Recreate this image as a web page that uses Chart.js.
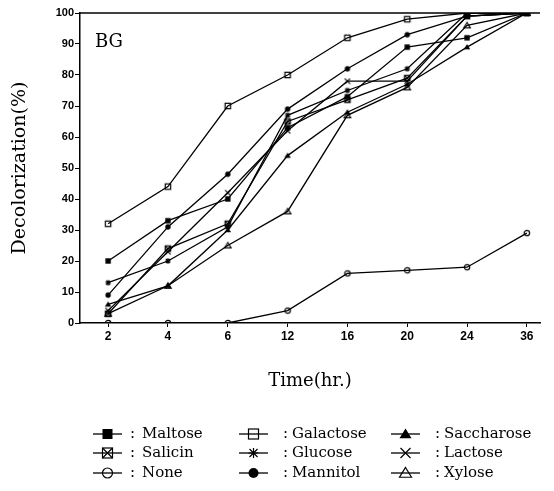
<!DOCTYPE html>
<html>
<head>
<meta charset="utf-8">
<script src="https://cdn.jsdelivr.net/npm/chart.js@4.4.0/dist/chart.umd.min.js"></script>
<style>
  body { margin: 0; background: #fff; }
</style>
</head>
<body>
<canvas id="c" width="554" height="491"></canvas>
<script>
// time points (hr.) and decolorization (%) per carbon source
var timeLabels = ['2', '4', '6', '12', '16', '20', '24', '36'];
var yTicks = [0, 10, 20, 30, 40, 50, 60, 70, 80, 90, 100];

var maltose    = [20, 33, 40, 63, 73, 89, 92, 100];
var galactose  = [32, 44, 70, 80, 92, 98, 100, 100];
var saccharose = [6, 12, 30, 54, 68, 77, 89, 100];
var salicin    = [3, 24, 32, 65, 72, 79, 99, 100];
var glucose    = [13, 20, 31, 67, 75, 82, 100, 100];
var lactose    = [4, 23, 42, 62, 78, 78, 99, 100];
var none       = [0, 0, 0, 4, 16, 17, 18, 29];
var mannitol   = [9, 31, 48, 69, 82, 93, 99, 100];
var xylose     = [3, 12, 25, 36, 67, 76, 96, 100];

var seriesNames = ['Maltose', 'Galactose', 'Saccharose', 'Salicin', 'Glucose', 'Lactose', 'None', 'Mannitol', 'Xylose'];
var seriesValues = [maltose, galactose, saccharose, salicin, glucose, lactose, none, mannitol, xylose];
var seriesMarks = ['fsquare', 'osquare', 'ftri', 'xsquare', 'aster', 'cross', 'ocircle', 'fcircle', 'otri'];

function drawMarker(ctx, kind, x, y, r) {
  ctx.save();
  ctx.strokeStyle = '#000';
  ctx.fillStyle = '#000';
  ctx.lineWidth = 1.2;
  ctx.beginPath();
  if (kind == 'fsquare') {
    ctx.fillRect(x - r, y - r, 2 * r, 2 * r);
  } else if (kind == 'osquare') {
    ctx.strokeRect(x - r, y - r, 2 * r, 2 * r);
  } else if (kind == 'xsquare') {
    ctx.strokeRect(x - r, y - r, 2 * r, 2 * r);
    ctx.moveTo(x - r, y - r); ctx.lineTo(x + r, y + r);
    ctx.moveTo(x + r, y - r); ctx.lineTo(x - r, y + r);
    ctx.stroke();
  } else if (kind == 'ftri' || kind == 'otri') {
    ctx.moveTo(x, y - r * 1.1);
    ctx.lineTo(x + r * 1.2, y + r * 0.85);
    ctx.lineTo(x - r * 1.2, y + r * 0.85);
    ctx.closePath();
    if (kind == 'ftri') ctx.fill(); else ctx.stroke();
  } else if (kind == 'ocircle' || kind == 'fcircle') {
    ctx.arc(x, y, r, 0, Math.PI * 2);
    if (kind == 'fcircle') ctx.fill(); else ctx.stroke();
  } else if (kind == 'aster') {
    ctx.moveTo(x, y - r); ctx.lineTo(x, y + r);
    ctx.moveTo(x - r, y); ctx.lineTo(x + r, y);
    ctx.moveTo(x - r * 0.8, y - r * 0.8); ctx.lineTo(x + r * 0.8, y + r * 0.8);
    ctx.moveTo(x + r * 0.8, y - r * 0.8); ctx.lineTo(x - r * 0.8, y + r * 0.8);
    ctx.stroke();
  } else if (kind == 'cross') {
    ctx.moveTo(x - r, y - r); ctx.lineTo(x + r, y + r);
    ctx.moveTo(x + r, y - r); ctx.lineTo(x - r, y + r);
    ctx.stroke();
  }
  ctx.restore();
}

function markImg(kind, r) {
  var c = document.createElement('canvas');
  var s = Math.ceil(2 * r + 4);
  c.width = s; c.height = s;
  drawMarker(c.getContext('2d'), kind, s / 2, s / 2, r);
  return c;
}

var datasets = seriesNames.map(function (name, i) {
  return {
    label: name,
    data: seriesValues[i].map(function (v, j) { return { x: j, y: v }; }),
    borderColor: '#000',
    borderWidth: 1.3,
    pointStyle: markImg(seriesMarks[i], 2.7),
    pointRadius: 3,
    fill: false,
    tension: 0
  };
});

var serif = 'DejaVu Serif';

var extras = {
  id: 'extras',
  afterDraw: function (chart) {
    var ctx = chart.ctx, a = chart.chartArea;
    ctx.save();
    // top frame line
    ctx.strokeStyle = '#000';
    ctx.lineWidth = 1.5;
    ctx.beginPath();
    ctx.moveTo(a.left, a.top);
    ctx.lineTo(a.right, a.top);
    ctx.stroke();

    ctx.fillStyle = '#000';
    ctx.font = '18px "' + serif + '"';
    ctx.textBaseline = 'alphabetic';
    ctx.fillText('BG', a.left + 15, a.top + 34);

    // legend, three columns
    var lineX = [93, 239, 391];
    var colonX = [130, 283, 435];
    var textX = [142, 292, 444];
    var rowY = [434, 453, 473];
    ctx.font = '15px "' + serif + '"';
    ctx.textBaseline = 'middle';
    seriesNames.forEach(function (name, i) {
      var col = i % 3, row = Math.floor(i / 3);
      var y = rowY[row];
      ctx.lineWidth = 1.3;
      ctx.beginPath();
      ctx.moveTo(lineX[col], y);
      ctx.lineTo(lineX[col] + 29, y);
      ctx.stroke();
      drawMarker(ctx, seriesMarks[i], lineX[col] + 14.5, y, 5);
      ctx.fillText(':', colonX[col], y);
      ctx.fillText(name, textX[col], y);
    });
    ctx.restore();
  }
};

new Chart(document.getElementById('c'), {
  type: 'line',
  data: { datasets: datasets },
  options: {
    responsive: false,
    animation: false,
    layout: { padding: { left: 0, top: 13, right: 14, bottom: 98 } },
    plugins: { legend: { display: false }, tooltip: { enabled: false } },
    scales: {
      x: {
        type: 'linear',
        min: -0.47,
        max: 7.22,
        afterFit: function (s) { s.height = 70; },
        afterBuildTicks: function (s) {
          s.ticks = timeLabels.map(function (t, i) { return { value: i }; });
        },
        ticks: {
          color: '#000',
          padding: 2,
          font: { family: 'Liberation Sans', size: 12, weight: 'bold' },
          callback: function (v) { return timeLabels[v]; }
        },
        grid: { drawOnChartArea: false, tickLength: 4, color: '#000' },
        border: { color: '#000', width: 1.5 },
        title: {
          display: true,
          text: 'Time(hr.)',
          color: '#000',
          font: { family: serif, size: 18 },
          padding: { top: 0, bottom: 1 }
        }
      },
      y: {
        min: 0,
        max: 100,
        afterFit: function (s) { s.width = 80; },
        afterBuildTicks: function (s) {
          s.ticks = yTicks.map(function (v) { return { value: v }; });
        },
        ticks: {
          color: '#000',
          padding: 1,
          font: { family: 'Liberation Sans', size: 11, weight: 'bold' }
        },
        grid: { drawOnChartArea: false, tickLength: 5, color: '#000' },
        border: { color: '#000', width: 1.5 },
        title: {
          display: true,
          text: 'Decolorization(%)',
          color: '#000',
          font: { family: serif, size: 19 },
          padding: { top: 9, bottom: 0 }
        }
      }
    }
  },
  plugins: [extras]
});
</script>
</body>
</html>
